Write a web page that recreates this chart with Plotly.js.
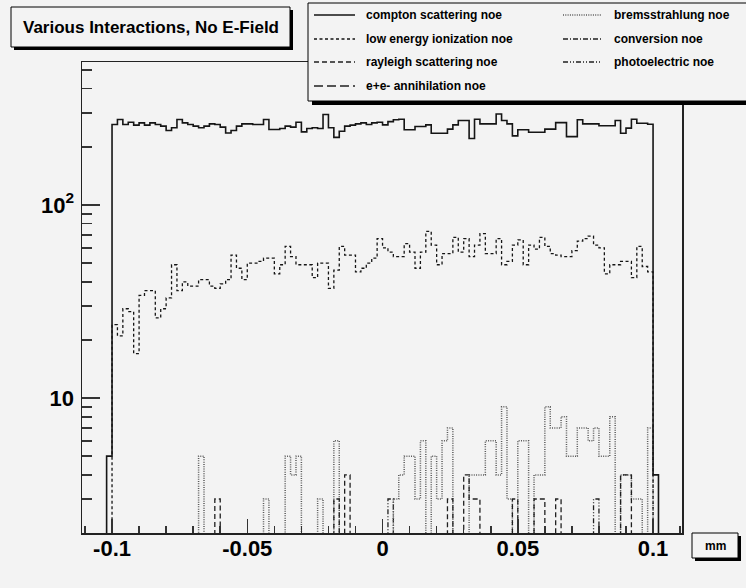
<!DOCTYPE html>
<html><head><meta charset="utf-8">
<script src="https://cdn.plot.ly/plotly-3.0.1.min.js"></script>
<style>html,body{margin:0;padding:0;background:#f3f3f3}</style>
</head><body>
<div id="chart" style="width:746px;height:588px"></div>
<script>
// ---------- data ----------
const binWidth = 0.002;
const comptonStart = -0.102;   // first compton bin left edge
const otherStart = -0.1;       // first bin left edge of the other histograms

const compton = [5,
 261,277,261,268,259,266,259,266,261,256,
 243,251,277,266,261,256,251,256,263,261,
 253,236,243,256,263,263,261,261,277,246,
 246,249,256,253,268,239,249,251,249,294,
 251,224,241,256,259,263,266,261,266,268,
 260,270,276,278,245,245,255,255,260,235,
 235,235,247,260,274,274,221,278,263,263,
 263,296,274,263,228,245,245,238,238,238,
 247,247,267,267,226,226,276,263,263,263,
 257,257,257,274,235,250,278,265,265,262,
 4];

const ionization = [
 24,21,29,28,17,34,36,36,26,29,
 33,49,36,40,38,38,41,41,38,37,
 39,41,55,47,41,50,50,51,53,53,
 44,49,61,54,49,49,49,42,50,50,
 37,46,61,55,55,45,47,50,53,67,
 60,57,54,54,63,57,47,57,73,62,
 49,56,56,68,57,67,54,62,71,56,
 56,67,49,51,62,66,49,62,59,68,
 61,56,55,54,54,58,65,67,69,62,
 60,44,49,49,51,51,42,61,48,45];

const bremsBins   = [16,28,32,33,34,38,41,52,53,54,55,56,57,59,60,61,62,66,67,68,69,70,71,72,73,75,76,78,79,80,81,82,83,84,85,86,87,88,89,90,91,92,94,95,96,97,99];
const bremsCounts = [5,3,5,4,5,3,6,3,4,5,5,3,6,5,3,6,7,4,4,4,6,6,4,9,3,6,6,4,4,9,7,7,8,5,5,7,7,6,7,5,5,8,4,4,3,3,7];
const rayleighBins   = [19,41,43,62,65,66,67,74,78,79,82,94,95];
const rayleighCounts = [3,3,4,3,4,3,3,3,3,3,3,4,4];
const photoBins   = [51,89];
const photoCounts = [3,3];
const conversionBins = [], conversionCounts = [];
const annihilationBins = [], annihilationCounts = [];

const legendNames = ["compton scattering noe","low energy ionization noe","rayleigh scattering noe","e+e- annihilation noe",
                     "bremsstrahlung noe","conversion noe","photoelectric noe"];
const xTickVals = [-0.1,-0.05,0,0.05,0.1];
const xTickText = ["-0.1","-0.05","0","0.05","0.1"];
const yTickVals = [10,100];
const yTickText = ["10","10<sup>2</sup>"];
const titleText = "Various Interactions, No E-Field";
const xUnit = "mm";

// ---------- helpers ----------
const NBINS = 100;
function expand(bins, counts){ const a = new Array(NBINS).fill(0); bins.forEach((b,i)=>a[b]=counts[i]); return a; }
const FLOOR = 0.1;
function outline(vals, start){
  const xs=[start], ys=[FLOOR];
  vals.forEach((v,i)=>{ xs.push(start+i*binWidth); ys.push(v>0?v:FLOOR); });
  xs.push(start+vals.length*binWidth); ys.push(FLOOR);
  return {x:xs, y:ys};
}
const styles = {
  compton:{color:'#151515', width:1.6, dash:'solid'},
  ion:{color:'#151515', width:1.3, dash:'3px,2.5px'},
  ray:{color:'#202020', width:1.3, dash:'5px,3px'},
  ann:{color:'#202020', width:1.3, dash:'9px,4px'},
  brem:{color:'#5a5a5a', width:1.5, dash:'1px,1.3px'},
  conv:{color:'#202020', width:1.3, dash:'5px,2px,1px,2px'},
  photo:{color:'#202020', width:1.3, dash:'5px,2px,1px,2px,1px,2px'}
};
const series = [
  [compton, comptonStart, styles.compton],
  [ionization, otherStart, styles.ion],
  [expand(rayleighBins, rayleighCounts), otherStart, styles.ray],
  [expand(annihilationBins, annihilationCounts), otherStart, styles.ann],
  [expand(bremsBins, bremsCounts), otherStart, styles.brem],
  [expand(conversionBins, conversionCounts), otherStart, styles.conv],
  [expand(photoBins, photoCounts), otherStart, styles.photo]
];
const traces = series.map((s,i)=>{ const o=outline(s[0], s[1]);
  return {type:'scatter', mode:'lines', x:o.x, y:o.y, name:legendNames[i], showlegend:false,
          line:{shape:'hv', color:s[2].color, width:s[2].width, dash:s[2].dash}, hoverinfo:'skip'}; });
traces.reverse();

// ---------- layout (pixel helpers) ----------
const L=82, R=682, T=62, B=533;
const px = x => (x-L)/(R-L);
const py = y => (B-y)/(B-T);
const FONT = 'Liberation Sans, Arial, Helvetica, sans-serif';
const shapes = [], annotations = [];
function box(x0,y0,x1,y1,sh){
  shapes.push({type:'rect', xref:'paper', yref:'paper', layer:'above', x0:px(x0+sh), x1:px(x1+sh), y0:py(y0+sh), y1:py(y1+sh), fillcolor:'#000', line:{width:0}});
  shapes.push({type:'rect', xref:'paper', yref:'paper', layer:'above', x0:px(x0), x1:px(x1), y0:py(y0), y1:py(y1), fillcolor:'#f3f3f3', line:{color:'#000', width:1}});
}
box(11,7,290,47,3);
annotations.push({xref:'paper', yref:'paper', x:px(150.5), y:py(27), text:'<b>'+titleText+'</b>', showarrow:false, xanchor:'center', yanchor:'middle', font:{family:FONT, size:17, color:'#000'}});
box(308,3,748,101,4);
const rowsY = [15,39,62,86];
const legendStyles = [styles.compton, styles.ion, styles.ray, styles.ann, styles.brem, styles.conv, styles.photo];
legendNames.forEach((n,i)=>{
  const col = i<4?0:1, row = i<4?i:i-4;
  const sx0 = col===0?314:563, sx1 = col===0?355:601, tx = col===0?364:612;
  const st = legendStyles[i];
  shapes.push({type:'line', xref:'paper', yref:'paper', layer:'above', x0:px(sx0), x1:px(sx1), y0:py(rowsY[row]), y1:py(rowsY[row]), line:{color:st.color, width:st.width, dash:st.dash}});
  annotations.push({xref:'paper', yref:'paper', x:px(tx), y:py(rowsY[row]), text:'<b>'+n+'</b>', showarrow:false, xanchor:'left', yanchor:'middle', font:{family:FONT, size:12, color:'#000'}});
});
box(692,533,738,558,3);
annotations.push({xref:'paper', yref:'paper', x:px(715), y:py(545.5), text:'<b>'+xUnit+'</b>', showarrow:false, xanchor:'center', yanchor:'middle', font:{family:FONT, size:12, color:'#000'}});

const minorY = [3,4,5,6,7,8,9,20,30,40,50,60,70,80,90,200,300,400,500];
const layout = {
  width:746, height:588,
  margin:{l:L, r:746-R, t:T, b:588-B, pad:0},
  paper_bgcolor:'#f3f3f3', plot_bgcolor:'#f3f3f3',
  showlegend:false,
  xaxis:{range:[-0.1111,0.1107], showgrid:false, zeroline:false, showline:true, linecolor:'#222', linewidth:1.5, mirror:true,
         tickmode:'array', tickvals:xTickVals, ticktext:xTickText.map(t=>'<b>'+t+'</b>'), ticks:'inside', ticklen:14, tickwidth:1.5, tickcolor:'#333',
         ticklabelstandoff:-5,
         minor:{tickmode:'linear', tick0:0, dtick:0.01, ticks:'inside', ticklen:7, tickwidth:1.5, tickcolor:'#333', showgrid:false},
         tickfont:{family:FONT, size:22, color:'#000'}},
  yaxis:{type:'log', range:[Math.log10(2), Math.log10(550)], showgrid:false, zeroline:false, showline:true, linecolor:'#222', linewidth:1.5, mirror:true,
         tickmode:'array', tickvals:yTickVals, ticktext:yTickText.map(t=>'<b>'+t+'</b>'), ticks:'inside', ticklen:18, tickwidth:1.5, tickcolor:'#333',
         ticklabelstandoff:2,
         minor:{tickmode:'array', tickvals:minorY, ticks:'inside', ticklen:10, tickwidth:1.5, tickcolor:'#333', showgrid:false},
         tickfont:{family:FONT, size:22, color:'#000'}},
  shapes:shapes, annotations:annotations
};
Plotly.newPlot('chart', traces, layout, {displayModeBar:false, staticPlot:true});
</script>
</body></html>
